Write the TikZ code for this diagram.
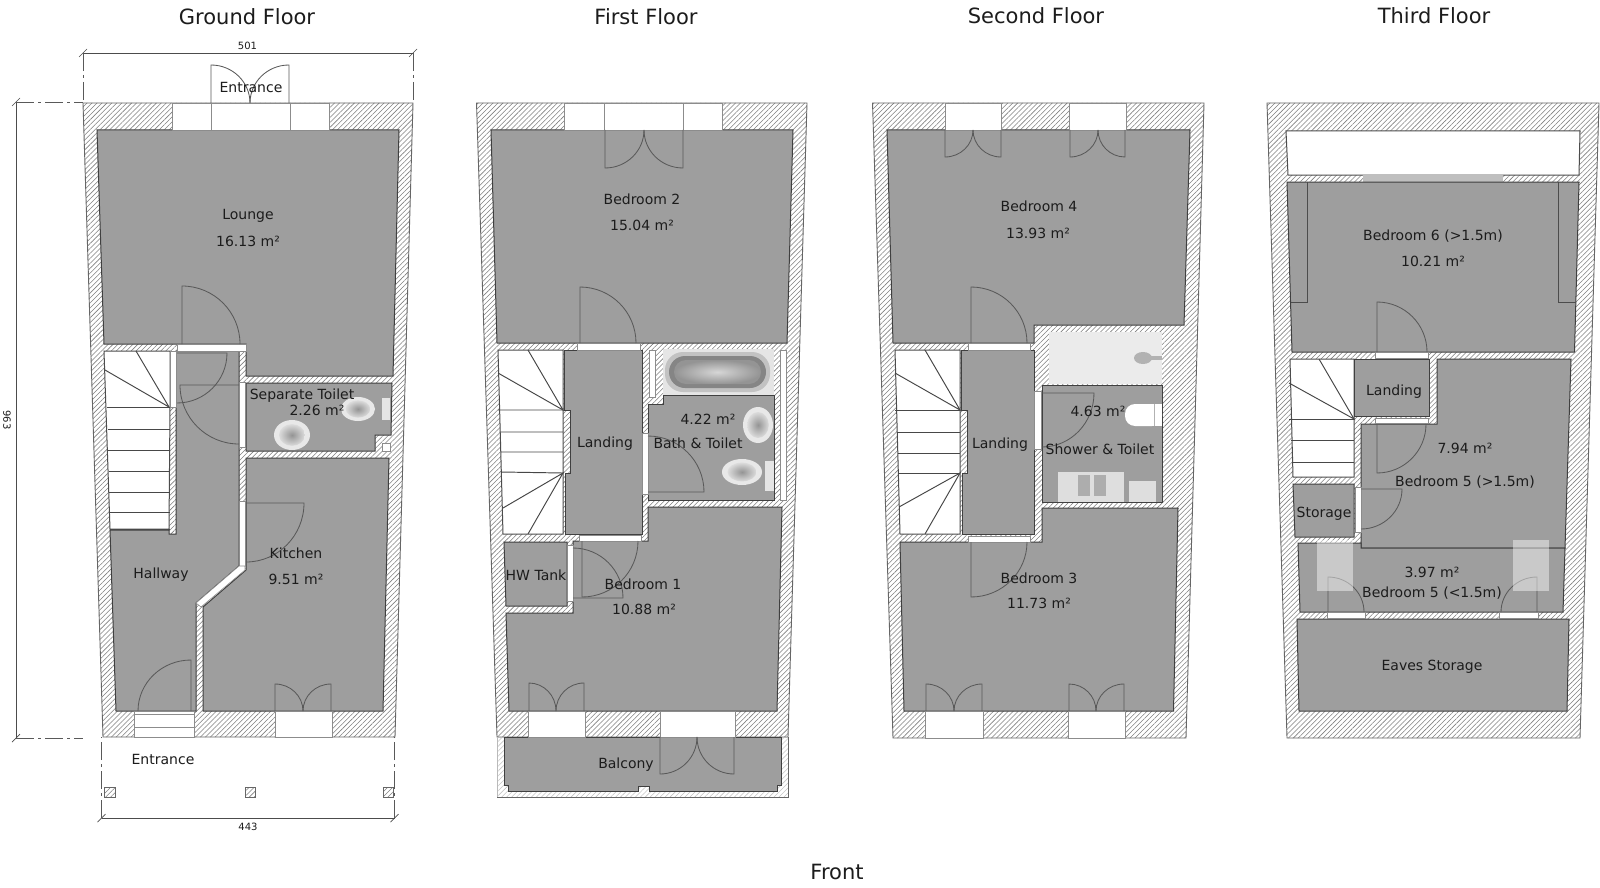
\documentclass[tikz,border=0pt]{standalone}
\usepackage{fontspec}
\setmainfont{DejaVu Sans}
\usetikzlibrary{calc,patterns.meta}
\definecolor{roomgray}{HTML}{9E9E9E}
\definecolor{inkdark}{HTML}{1C1C1C}
\tikzset{
  wall/.style={pattern={Lines[angle=45,distance=1.75pt,line width=0.28pt]},pattern color=black!50,draw=black!60,line width=0.45pt},
  room/.style={fill=roomgray,draw=black!75,line width=0.5pt},
  stairwell/.style={fill=white,draw=black!70,line width=0.5pt},
  opening/.style={fill=white,draw=black!45,line width=0.3pt},
  tread/.style={draw=black!72,line width=0.48pt},
  doorline/.style={draw=black!65,line width=0.42pt},
  closetline/.style={draw=black!70,line width=0.45pt},
  dimline/.style={draw=black!70,line width=0.35pt},
  dimdash/.style={draw=black!65,line width=0.35pt,dash pattern=on 9pt off 2pt on 1.5pt off 2pt},
  lbl/.style={font=\fontsize{7}{8}\selectfont,text=inkdark,inner sep=0pt,text height=5.1pt,text depth=1.3pt,yshift=-1pt},
  dimlbl/.style={font=\fontsize{5}{6}\selectfont,text=inkdark,inner sep=0pt},
  titlelbl/.style={font=\fontsize{10.5}{12}\selectfont,text=inkdark,inner sep=0pt},
  pale/.style={fill=black!10,draw=none},
  post/.style={wall,line width=0.4pt}
}
\newcommand{\doorleaf}[3]{%
  \draw[doorline] (#1) -- (#2) .. controls ($(#2)+0.5523*($(#3)-(#1)$)$) and ($(#3)+0.5523*($(#2)-(#1)$)$) .. (#3);}
\newcommand{\dimtick}[1]{\draw[dimline] ([shift={(-4,4)}]#1) -- ([shift={(4,-4)}]#1);}
\newcommand{\bowl}[3]{% centre, x radius, y radius
  \fill[black!9] (#1) ellipse [x radius=#2,y radius=#3];
  \shade[inner color=black!42,outer color=black!14] (#1) ellipse [x radius=0.72*#2,y radius=0.72*#3];}
\begin{document}
\begin{tikzpicture}[x=0.5pt,y=-0.5pt]
\useasboundingbox (0,0) rectangle (1600,888);
\fill[white] (0,0) rectangle (1600,888);

% ---------- titles
\node[titlelbl] (t1) at (247,17) {Ground Floor};
\node[titlelbl] (t2) at (646,17) {First Floor};
\node[titlelbl] (t3) at (1036,16) {Second Floor};
\node[titlelbl] (t4) at (1434,16) {Third Floor};
\node[titlelbl] (front) at (837,872) {Front};

% ---------- GROUND FLOOR
\draw[wall] (83,103) -- (413,103) -- (395,737) -- (103,737) -- cycle;
\draw[room] (97,130) -- (399,130) -- (393,376) -- (246,376) -- (246,344) -- (104,344) -- cycle;
\draw[stairwell] (104,351) -- (170,351) -- (170,407) -- (169,529) -- (110,529) -- cycle;
\draw[room] (177,351) -- (239,351) -- (239,566) -- (196,603) -- (196,711) -- (116,711) -- (110,530) -- (169,530) -- (169,534) -- (176,534) -- (176,351) -- cycle;
\draw[room] (246,383) -- (392,383) -- (391,435) -- (375,435) -- (375,451) -- (246,451) -- cycle;
\draw[opening] (382,443) rectangle (390,451);
\draw[room] (246,458) -- (389,458) -- (383,711) -- (203,711) -- (203,607) -- (246,570) -- cycle;
% openings
\draw[opening] (172,103) rectangle (329,130);
\draw[opening] (211,103) -- (211,130) (290,103) -- (290,130);
\draw[opening] (134,711) rectangle (194,737);
\draw[opening] (134,714) -- (194,714) (134,727) -- (194,727);
\draw[opening] (275,711) rectangle (332,737);
\draw[opening] (170,351) rectangle (176,407);
\draw[opening] (177,344) rectangle (246,351);
\draw[opening] (239,382) rectangle (245,447);
\draw[opening] (239,501) rectangle (245,566);
\draw[opening] (239,566) -- (245,566) -- (245,570) -- (201,607) -- (196,603) -- cycle;
% stairs
\draw[tread] (107,407) -- (170,407) (108,429) -- (170,429) (108,450) -- (170,450) (109,471) -- (170,471) (109,492) -- (170,492) (110,512) -- (170,512) (110,529) -- (170,529);
\draw[tread] (136,351) -- (169,407) -- (105,370);
% doors
\doorleaf{211,103}{211,65}{250,103}
\doorleaf{289,103}{289,65}{250,103}
\doorleaf{182,344}{182,286}{240,344}
\doorleaf{177,353}{227,353}{177,403}
\doorleaf{239,385}{180,385}{239,444}
\doorleaf{246,503}{304,503}{246,562}
\doorleaf{191,711}{191,660}{138,711}
\doorleaf{275,711}{275,684}{303,711}
\doorleaf{331,711}{331,684}{303,711}
% fixtures
\fill[pale] (382,398) rectangle (390,420);
\bowl{358,409}{17}{12}
\bowl{292,435}{18}{15}
% posts
\draw[post] (104,787) rectangle (115,797);
\draw[post] (245,787) rectangle (255,797);
\draw[post] (383,787) rectangle (393,797);
% dimensions
\coordinate (da1) at (83,53); \coordinate (da2) at (413,53);
\coordinate (da3) at (83,103); \coordinate (da4) at (413,103);
\draw[dimline] (da1) -- (da2); \dimtick{da1} \dimtick{da2}
\draw[dimdash] (da1) -- (da3); \draw[dimdash] (da2) -- (da4);
\node[dimlbl] (d501) at (247.5,46) {501};
\coordinate (db1) at (101.5,818); \coordinate (db2) at (394.5,818);
\coordinate (db3) at (101.5,737); \coordinate (db4) at (394.5,737);
\draw[dimline] (db1) -- (db2); \dimtick{db1} \dimtick{db2}
\draw[dimdash] (db1) -- (db3); \draw[dimdash] (db2) -- (db4);
\node[dimlbl] (d443) at (248,827) {443};
\coordinate (dc1) at (16,102); \coordinate (dc2) at (16,738);
\coordinate (dc3) at (83,102); \coordinate (dc4) at (83,738);
\draw[dimline] (dc1) -- (dc2); \dimtick{dc1} \dimtick{dc2}
\draw[dimdash] (dc1) -- (dc3); \draw[dimdash] (dc2) -- (dc4);
\node[dimlbl,rotate=-90] (d963) at (7,420) {963};
% labels
\node[lbl] (g1) at (251,87) {Entrance};
\node[lbl] (g2) at (248,214) {Lounge};
\node[lbl] (g3) at (248,241) {16.13 m²};
\node[lbl] (g4) at (302,394) {Separate Toilet};
\node[lbl] (g5) at (317,410) {2.26 m²};
\node[lbl] (g6) at (296,553) {Kitchen};
\node[lbl] (g7) at (296,579) {9.51 m²};
\node[lbl] (g8) at (161,573) {Hallway};
\node[lbl] (g9) at (163,759) {Entrance};

% ---------- FIRST FLOOR
\draw[wall] (476.5,103) -- (807,103) -- (788,737) -- (497,737) -- cycle;
\draw[wall] (497,737) -- (788,737) -- (788,797) -- (497,797) -- cycle;
\fill[white,opacity=0.55] (497,737) rectangle (788,797);
\draw[room] (504,737) -- (781,737) -- (781,785) -- (777,785) -- (777,791) -- (649,791) -- (649,786) -- (638,786) -- (638,791) -- (508,791) -- (508,785) -- (504,785) -- cycle;
\draw[room] (491,130) -- (793,130) -- (787,343) -- (497,343) -- cycle;
\draw[stairwell] (498,350) -- (563,350) -- (563,534) -- (503,534) -- cycle;
\draw[room] (564,350) -- (642,350) -- (642,534) -- (565,534) -- (565,473) -- (570,473) -- (570,410) -- (564,410) -- cycle;
\draw[room] (648,404) -- (663,404) -- (663,395) -- (774,395) -- (774,500) -- (648,500) -- cycle;
\fill[pale] (663,349) rectangle (774,395);
\draw[opening] (780,350) rectangle (786,500);
\draw[opening] (649,350) rectangle (655,397);
\draw[room] (648,507) -- (782,507) -- (777,711) -- (509,711) -- (506,613) -- (573,613) -- (573,541) -- (648,541) -- cycle;
\draw[room] (504,542) -- (567,542) -- (567,606) -- (506,606) -- cycle;
% openings
\draw[opening] (564,103) rectangle (722,130);
\draw[opening] (604,103) -- (604,130) (683,103) -- (683,130);
\draw[opening] (528,711) rectangle (585,737);
\draw[opening] (660,711) rectangle (735,737);
\draw[opening] (577,343) rectangle (640,350);
\draw[opening] (579,535) rectangle (641,541);
\draw[opening] (642,433) rectangle (648,494);
\draw[opening] (567,545) rectangle (573,601);
% stairs
\draw[tread] (498,410) -- (563,410) (500,432) -- (563,432) (501,452) -- (563,452) (501,472) -- (563,473);
\draw[tread] (528,350) -- (563,410) -- (498,373);
\draw[tread] (503,508) -- (563,473) -- (528,534);
% doors
\doorleaf{605,130}{605,168}{644,130}
\doorleaf{683,130}{683,168}{644,130}
\doorleaf{580,343}{580,287}{636,343}
\doorleaf{648,492}{704,492}{648,436}
\doorleaf{573,598}{623,598}{573,548}
\doorleaf{582,541}{582,597}{638,541}
\doorleaf{529,711}{529,683}{556,711}
\doorleaf{584,711}{584,683}{556,711}
\doorleaf{660,737}{660,774}{697,737}
\doorleaf{734,737}{734,774}{697,737}
% fixtures
\fill[rounded corners=9pt,black!24] (665,352) rectangle (770,392);
\fill[rounded corners=8pt,black!48] (669,356) rectangle (766,388);
\shade[rounded corners=6pt,inner color=black!16,outer color=black!42] (674,360) rectangle (761,384);
\fill[black!10] (765,461) rectangle (774,491);
\bowl{758,425}{15}{18}
\bowl{742,472}{20}{13}
% labels
\node[lbl] (f1) at (642,199) {Bedroom 2};
\node[lbl] (f2) at (642,225) {15.04 m²};
\node[lbl] (f3) at (605,442) {Landing};
\node[lbl] (f4) at (708,419) {4.22 m²};
\node[lbl] (f5) at (698,443) {Bath \& Toilet};
\node[lbl] (f6) at (536,575) {HW Tank};
\node[lbl] (f7) at (643,584) {Bedroom 1};
\node[lbl] (f8) at (644,609) {10.88 m²};
\node[lbl] (f9) at (626,763) {Balcony};

% ---------- SECOND FLOOR
\draw[wall] (872.5,103) -- (1204,103) -- (1186,738) -- (893,738) -- cycle;
\draw[room] (887,130) -- (1190,130) -- (1184,325) -- (1034,325) -- (1034,343) -- (893,343) -- cycle;
\draw[stairwell] (895,350) -- (960,350) -- (960,534) -- (900,534) -- cycle;
\draw[room] (961,350) -- (1034,350) -- (1034,534) -- (962,534) -- (962,473) -- (967,473) -- (967,410) -- (961,410) -- cycle;
\fill[black!8] (1049,332) rectangle (1162,384);
\draw[room] (1042,385) -- (1162,385) -- (1162,502) -- (1042,502) -- cycle;
\draw[room] (900,542) -- (1042,542) -- (1042,508) -- (1178,508) -- (1173.5,711) -- (904,711) -- cycle;
% openings
\draw[opening] (945,103) rectangle (1001,130);
\draw[opening] (1069,103) rectangle (1126,130);
\draw[opening] (925,711) rectangle (983,738);
\draw[opening] (1068,711) rectangle (1125,738);
\draw[opening] (968,343) rectangle (1030,350);
\draw[opening] (968,536) rectangle (1030,542);
\draw[opening] (1034,391) rectangle (1041,449);
% stairs
\draw[tread] (895,410) -- (960,410) (897,432) -- (960,432) (898,453) -- (960,453) (898,473) -- (960,473);
\draw[tread] (925,350) -- (960,410) -- (895,373);
\draw[tread] (899,507) -- (960,473) -- (925,534);
% doors
\doorleaf{945,130}{945,157}{973,130}
\doorleaf{1001,130}{1001,157}{973,130}
\doorleaf{1070,130}{1070,157}{1098,130}
\doorleaf{1125,130}{1125,157}{1098,130}
\doorleaf{971,343}{971,287}{1027,343}
\doorleaf{1042,393}{1094,393}{1042,447}
\doorleaf{971,542}{971,597}{1027,542}
\doorleaf{926,711}{926,684}{954,711}
\doorleaf{982,711}{982,684}{954,711}
\doorleaf{1069,711}{1069,684}{1096,711}
\doorleaf{1124,711}{1124,684}{1096,711}
% fixtures
\fill[white,rounded corners=5pt] (1125,404) rectangle (1162,426);
\fill[white] (1145,404) rectangle (1162,426);
\draw[black!30,line width=0.4pt] (1154,404) -- (1154,426);
\fill[black!30] (1143,358) ellipse [x radius=9,y radius=6];
\fill[black!30] (1150,356) rectangle (1162,360);
\fill[black!13] (1058,472) rectangle (1124,502);
\fill[black!32] (1078,475) rectangle (1090,496);
\fill[black!32] (1094,475) rectangle (1106,496);
\fill[black!13] (1129,481) rectangle (1156,502);
% labels
\node[lbl] (s1) at (1039,206) {Bedroom 4};
\node[lbl] (s2) at (1038,233) {13.93 m²};
\node[lbl] (s3) at (1000,443) {Landing};
\node[lbl] (s4) at (1098,411) {4.63 m²};
\node[lbl] (s5) at (1100,449) {Shower \& Toilet};
\node[lbl] (s6) at (1039,578) {Bedroom 3};
\node[lbl] (s7) at (1039,603) {11.73 m²};

% ---------- THIRD FLOOR
\draw[wall] (1267,103) -- (1599,103) -- (1580,738) -- (1287,738) -- cycle;
\draw[fill=white,draw=black!70,line width=0.5pt] (1286,131) -- (1580,131) -- (1579,175) -- (1288,175) -- cycle;
\fill[black!25] (1363,175) rectangle (1503,182);
\draw[room] (1287,182) -- (1579,182) -- (1574.5,352) -- (1292,352) -- cycle;
\draw[closetline] (1307,182) -- (1307,302) -- (1291,302);
\draw[closetline] (1558,182) -- (1558,302) -- (1576,302);
\draw[stairwell] (1290,359) -- (1354,359) -- (1354,477) -- (1293,477) -- cycle;
\draw[room] (1354,359) -- (1429,359) -- (1429,416) -- (1354,416) -- cycle;
\draw[room] (1437,359) -- (1571,359) -- (1565,548) -- (1361,548) -- (1361,424) -- (1437,424) -- cycle;
\draw[room] (1293,484) -- (1354,484) -- (1354,537) -- (1295,537) -- cycle;
\draw[room] (1298,543) -- (1361,543) -- (1361,548) -- (1565,548) -- (1563,612) -- (1300,612) -- cycle;
\draw[room] (1297,619) -- (1569,619) -- (1567,711) -- (1299,711) -- cycle;
% openings
\draw[opening] (1375,352) rectangle (1428,358);
\draw[opening] (1375,418) rectangle (1428,423);
\draw[opening] (1355,487) rectangle (1361,532);
\draw[opening] (1327,612) rectangle (1365,618);
\draw[opening] (1499,612) rectangle (1538,618);
% stairs
\draw[tread] (1289,419) -- (1354,419) (1291,440) -- (1354,440) (1292,462) -- (1354,462);
\draw[tread] (1319,359) -- (1354,419) -- (1289,383);
% doors
\doorleaf{1377,352}{1377,302}{1427,352}
\doorleaf{1377,424}{1377,473}{1426,424}
\doorleaf{1361,489}{1402,489}{1361,529}
\doorleaf{1328,612}{1328,577}{1364,612}
\doorleaf{1537,612}{1537,577}{1501,612}
% overlays
\fill[white,opacity=0.45] (1317,540) rectangle (1353,591);
\fill[white,opacity=0.45] (1513,540) rectangle (1549,591);
% labels
\node[lbl] (h1) at (1433,235) {Bedroom 6 (>1.5m)};
\node[lbl] (h2) at (1433,261) {10.21 m²};
\node[lbl] (h3) at (1394,390) {Landing};
\node[lbl] (h4) at (1465,448) {7.94 m²};
\node[lbl] (h5) at (1465,481) {Bedroom 5 (>1.5m)};
\node[lbl] (h6) at (1324,512) {Storage};
\node[lbl] (h7) at (1432,572) {3.97 m²};
\node[lbl] (h8) at (1432,592) {Bedroom 5 (<1.5m)};
\node[lbl] (h9) at (1432,665) {Eaves Storage};
\end{tikzpicture}
\end{document}
